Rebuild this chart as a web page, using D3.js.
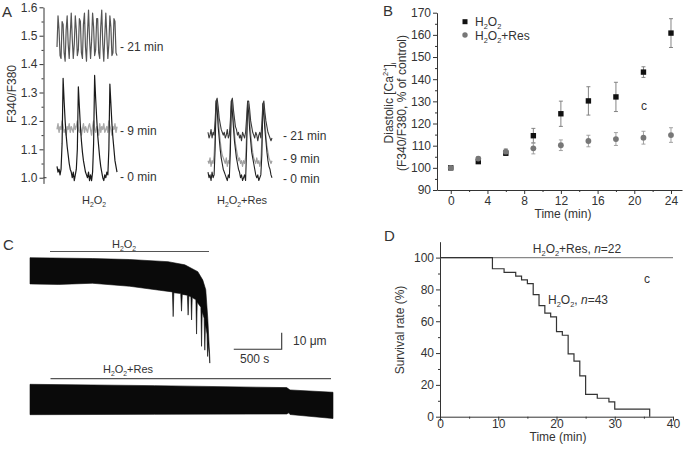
<!DOCTYPE html>
<html><head><meta charset="utf-8">
<script src="https://cdn.jsdelivr.net/npm/d3@7"></script>
<style>body{margin:0;background:#fff} text{font-family:"Liberation Sans",Arial,sans-serif;fill:#333}</style>
</head><body><svg id="c" width="685" height="452"></svg>
<script>
// ---------- Panel A: F340/F380 traces ----------
const aTicks = [1.0, 1.1, 1.2, 1.3, 1.4, 1.5, 1.6];
const aMinor = [1.05, 1.15, 1.25, 1.35, 1.45, 1.55];
const h2o2_0min = [1.04,1.02,1.03,1.01,1.03,1.12,1.35,1.27,1.20,1.15,1.11,1.08,1.05,1.03,1.02,1.00,1.02,0.99,1.01,1.03,1.10,1.32,1.25,1.18,1.13,1.09,1.06,1.04,1.02,1.01,1.00,1.02,0.99,1.01,0.99,1.02,1.12,1.36,1.28,1.21,1.15,1.11,1.07,1.04,1.02,1.00,0.99,1.01,1.00,1.02,1.01,1.10,1.33,1.26,1.19,1.14,1.10,1.06,1.04,1.02];
const h2o2_9min = [1.17,1.19,1.16,1.18,1.17,1.20,1.18,1.16,1.17,1.15,1.18,1.17,1.19,1.16,1.18,1.17,1.16,1.19,1.17,1.18,1.20,1.17,1.16,1.18,1.15,1.17,1.19,1.16,1.18,1.17,1.16,1.18,1.19,1.17,1.15,1.18,1.20,1.17,1.16,1.18,1.17,1.15,1.19,1.16,1.18,1.17,1.19,1.16,1.17,1.18,1.16,1.20,1.18,1.17,1.15,1.18,1.17,1.19,1.16,1.18];
const h2o2_21min = [1.46,1.57,1.52,1.43,1.42,1.55,1.54,1.44,1.41,1.52,1.57,1.47,1.42,1.50,1.58,1.49,1.42,1.47,1.57,1.52,1.43,1.45,1.56,1.55,1.44,1.42,1.54,1.58,1.46,1.41,1.51,1.59,1.49,1.42,1.48,1.58,1.53,1.43,1.45,1.56,1.56,1.44,1.42,1.53,1.59,1.47,1.41,1.50,1.58,1.50,1.42,1.47,1.57,1.53,1.43,1.44,1.56,1.55,1.44,1.43];
const res_0min = [1.02,1.00,1.01,0.99,1.02,1.00,1.01,1.10,1.27,1.24,1.18,1.14,1.10,1.07,1.05,1.03,1.02,1.01,1.00,0.99,1.01,1.00,1.09,1.27,1.23,1.18,1.13,1.10,1.07,1.05,1.03,1.02,1.00,1.01,0.99,1.00,1.01,0.99,1.10,1.26,1.23,1.17,1.13,1.09,1.07,1.05,1.03,1.01,1.00,1.01,0.99,1.00,1.01,1.08,1.26,1.22,1.17,1.13,1.09,1.06,1.04,1.03,1.01,1.00];
const res_9min = [1.06,1.05,1.07,1.04,1.06,1.05,1.08,1.15,1.26,1.27,1.22,1.17,1.13,1.10,1.08,1.07,1.06,1.05,1.07,1.04,1.06,1.05,1.14,1.25,1.27,1.21,1.16,1.12,1.10,1.08,1.06,1.07,1.05,1.06,1.04,1.06,1.05,1.07,1.15,1.26,1.26,1.21,1.16,1.12,1.09,1.07,1.06,1.05,1.07,1.05,1.06,1.04,1.06,1.13,1.25,1.26,1.20,1.15,1.11,1.09,1.07,1.06,1.05,1.06];
const res_21min = [1.16,1.14,1.15,1.17,1.14,1.16,1.15,1.20,1.27,1.28,1.25,1.21,1.19,1.17,1.16,1.15,1.16,1.14,1.15,1.17,1.14,1.15,1.20,1.27,1.28,1.24,1.21,1.18,1.17,1.15,1.16,1.14,1.15,1.13,1.16,1.15,1.14,1.16,1.21,1.27,1.27,1.24,1.20,1.18,1.16,1.15,1.14,1.16,1.15,1.13,1.15,1.16,1.14,1.19,1.26,1.27,1.23,1.20,1.18,1.16,1.15,1.14,1.13,1.14];

// ---------- Panel B: diastolic Ca ----------
const bTime = [0, 3, 6, 9, 12, 15, 18, 21, 24];
const bH2O2 = [100, 102.8, 106.6, 114.5, 124.4, 130.2, 132, 143.2, 160.8];
const bH2O2Err = [0, 0.8, 1.0, 3.3, 5.7, 6.4, 6.6, 2.4, 6.5];
const bRes = [100, 104.2, 107.3, 108.8, 110.2, 112.1, 113, 113.6, 114.8];
const bResErr = [0, 0.8, 1.3, 2.5, 2.4, 2.6, 2.9, 2.9, 3.3];
const bYTicks = [90, 100, 110, 120, 130, 140, 150, 160, 170];
const bYMinor = [95, 105, 115, 125, 135, 145, 155, 165];
const bXTicks = [0, 4, 8, 12, 16, 20, 24];
const bXMinor = [2, 6, 10, 14, 18, 22];

// ---------- Panel C: cell length traces (time s, length change um) ----------
const cTopUpper = [[0,0],[650,-0.5],[1040,-1.1],[1440,-2.4],[1615,-4.3],[1750,-8.4],[1802,-13.5],[1833,-19.3],[1854,-36.5],[1875,-60.5]];
const cTopLower = [[0,-15.8],[300,-16.1],[650,-15.4],[1040,-17.2],[1350,-19.6],[1485,-20.6],[1493,-35.5],[1500,-21.1],[1572,-21.6],[1580,-32.2],[1588,-22.1],[1641,-22.6],[1649,-34.6],[1657,-23],[1678,-23.5],[1685,-37.5],[1692,-24],[1730,-25.4],[1737,-46],[1744,-26.9],[1782,-29.8],[1789,-53.4],[1796,-32.6],[1816,-36.5],[1823,-55.7],[1830,-40.3],[1846,-46],[1852,-59.5],[1858,-51.8],[1868,-57.6],[1875,-63.5]];
const cBotUpper = [[0,0],[1300,-0.8],[2677,-2.0],[2712,-3.4],[3160,-4.8]];
const cBotLower = [[0,-18.3],[1300,-18.1],[2677,-17.9],[2700,-17.2],[2712,-18.2],[3160,-20.6]];
const cScaleTime = 500;   // s
const cScaleLen = 10;     // um

// ---------- Panel D: survival ----------
const dTime = [0, 9, 11, 13, 14, 15, 16, 17, 18, 19, 20, 21, 22, 23, 24, 25, 27, 29, 30, 36];
const dSurv = [100, 93.0, 90.7, 88.4, 86.0, 83.7, 76.7, 69.8, 65.1, 62.8, 53.5, 51.2, 39.5, 34.9, 25.6, 14.0, 11.6, 9.3, 4.7, 0];
const dResTime = [0, 40];
const dResSurv = [100, 100];
const dYTicks = [0, 20, 40, 60, 80, 100];
const dYMinor = [10, 30, 50, 70, 90];
const dXTicks = [0, 10, 20, 30, 40];
const dXMinor = [5, 15, 25, 35];

const H2O2 = ['H', ['2','sub'], 'O', ['2','sub']];

const svg = d3.select('#c');
svg.append('rect').attr('width', 685).attr('height', 452).attr('fill', '#fff');

function rich(g, x, y, parts, o = {}) {
  const size = o.size || 12;
  const t = g.append('text').attr('x', x).attr('y', y).attr('font-size', size)
    .attr('text-anchor', o.anchor || 'start');
  if (o.rotate) t.attr('transform', `rotate(-90,${x},${y})`);
  let shift = 0;
  parts.forEach(p => {
    const [s, m] = typeof p === 'string' ? [p, ''] : p;
    if (m === 'italic') {
      t.append('tspan').text(s).attr('font-style', 'italic').attr('dy', -shift);
      shift = 0; return;
    }
    const target = m === 'sub' ? size * 0.25 : m === 'sup' ? -size * 0.38 : 0;
    const ts = t.append('tspan').text(s).attr('dy', target - shift);
    if (m) ts.attr('font-size', size * 0.62);
    shift = target;
  });
  return t;
}

function styleAxis(g) {
  g.selectAll('path,line').attr('stroke', '#333').attr('stroke-width', 1);
  g.selectAll('text').attr('fill', '#333').attr('font-size', 12)
    .attr('font-family', '"Liberation Sans",Arial,sans-serif');
}
function drawAxis(gen, major, minor, fmt, tx, ty, pad = 2) {
  const g = svg.append('g').attr('transform', `translate(${tx},${ty})`)
    .call(gen.tickValues(major).tickSize(4).tickSizeOuter(0).tickPadding(pad).tickFormat(fmt));
  styleAxis(g);
  const m = svg.append('g').attr('transform', `translate(${tx},${ty})`)
    .call(gen.tickValues(minor).tickSize(2).tickSizeOuter(0).tickFormat(''));
  m.select('.domain').remove();
  styleAxis(m);
  return g;
}
function letter(x, y, s) {
  svg.append('text').attr('x', x).attr('y', y).attr('font-size', 15).attr('fill', '#222').text(s);
}

// ===== Panel A =====
const yA = d3.scaleLinear().domain([0.98, 1.6]).range([183.4, 7.3]);
drawAxis(d3.axisLeft(yA), aTicks, aMinor, d3.format('.1f'), 43.5, 0);
svg.append('line').attr('x1', 43.5).attr('x2', 46.5).attr('y1', yA(1.0)).attr('y2', yA(1.0)).attr('stroke', '#333');
const xA1 = d3.scaleLinear().domain([0, h2o2_0min.length - 1]).range([57, 117]);
const xA2 = d3.scaleLinear().domain([0, res_0min.length - 1]).range([208, 272]);
function trace(arr, xs, color, w) {
  svg.append('path').datum(arr).attr('fill', 'none').attr('stroke', color).attr('stroke-width', w)
    .attr('stroke-linejoin', 'round')
    .attr('d', d3.line().x((d, i) => xs(i)).y(d => yA(d)));
}
trace(h2o2_21min, xA1, '#555', 1.2);
trace(h2o2_9min, xA1, '#aaa', 1.4);
trace(h2o2_0min, xA1, '#1a1a1a', 1.2);
trace(res_9min, xA2, '#a0a0a0', 1.2);
trace(res_0min, xA2, '#222', 1.1);
trace(res_21min, xA2, '#3a3a3a', 1.1);
const aLbl = [['- 21 min', 120, 51], ['- 9 min', 120, 135], ['- 0 min', 120, 181],
              ['- 21 min', 283, 140], ['- 9 min', 283, 163], ['- 0 min', 283, 183]];
aLbl.forEach(([s, x, y]) => svg.append('text').attr('x', x).attr('y', y).attr('font-size', 12).text(s));
rich(svg, 94, 204, H2O2, { anchor: 'middle', size: 11 });
rich(svg, 242, 204, [...H2O2, '+Res'], { anchor: 'middle', size: 11 });
svg.append('text').attr('transform', 'translate(16,94) rotate(-90)').attr('text-anchor', 'middle')
  .attr('font-size', 12).text('F340/F380');
letter(2, 17, 'A');

// ===== Panel B =====
const xB = d3.scaleLinear().domain([-1.5, 25.2]).range([437, 682]);
const yB = d3.scaleLinear().domain([90, 170]).range([190, 12.7]);
drawAxis(d3.axisLeft(yB), bYTicks, bYMinor, d3.format('d'), 437, 0);
drawAxis(d3.axisBottom(xB), bXTicks, bXMinor, d3.format('d'), 0, 190);
function errBars(vals, errs, color) {
  bTime.forEach((t, i) => {
    if (!errs[i]) return;
    const x = xB(t), y1 = yB(vals[i] + errs[i]), y2 = yB(vals[i] - errs[i]);
    const g = svg.append('g').attr('stroke', color).attr('stroke-width', 0.9);
    g.append('line').attr('x1', x).attr('x2', x).attr('y1', y1).attr('y2', y2);
    g.append('line').attr('x1', x - 2).attr('x2', x + 2).attr('y1', y1).attr('y2', y1);
    g.append('line').attr('x1', x - 2).attr('x2', x + 2).attr('y1', y2).attr('y2', y2);
  });
}
errBars(bH2O2, bH2O2Err, '#777');
errBars(bRes, bResErr, '#999');
svg.append('g').selectAll('rect').data(bTime).join('rect')
  .attr('x', (d) => xB(d) - 2.7).attr('y', (d, i) => yB(bH2O2[i]) - 2.7)
  .attr('width', 5.4).attr('height', 5.4).attr('fill', '#111');
svg.append('g').selectAll('circle').data(bTime).join('circle')
  .attr('cx', d => xB(d)).attr('cy', (d, i) => yB(bRes[i])).attr('r', 2.9).attr('fill', '#777');
svg.append('rect').attr('x', 462.5).attr('y', 19.2).attr('width', 5).attr('height', 5).attr('fill', '#111');
svg.append('circle').attr('cx', 465).attr('cy', 35).attr('r', 2.7).attr('fill', '#777');
rich(svg, 475, 26, H2O2, { size: 12 });
rich(svg, 475, 39.5, [...H2O2, '+Res'], { size: 12 });
svg.append('text').attr('x', 644).attr('y', 110).attr('font-size', 12).attr('text-anchor', 'middle').text('c');
const bT = svg.append('g');
rich(bT, 393, 103, ['Diastolic [Ca', ['2+', 'sup'], ']', ['i', 'sub']], { anchor: 'middle', rotate: true, size: 12 });
rich(bT, 406, 103, ['(F340/F380, % of control)'], { anchor: 'middle', rotate: true, size: 12 });
svg.append('text').attr('x', 563).attr('y', 218).attr('text-anchor', 'middle').attr('font-size', 12).text('Time (min)');
letter(383, 16, 'B');

// ===== Panel C =====
const xC = d3.scaleLinear().domain([0, 3160]).range([30, 333]);
const pxPerUm = 1.66;
const yCTop = d3.scaleLinear().domain([-70, 0]).range([257.7 + 70 * pxPerUm, 257.7]);
const yCBot = d3.scaleLinear().domain([-25, 0]).range([384.3 + 25 * pxPerUm, 384.3]);
function band(up, lo, ys) {
  const pts = up.map(d => [xC(d[0]), ys(d[1])]).concat(lo.slice().reverse().map(d => [xC(d[0]), ys(d[1])]));
  svg.append('path').attr('d', d3.line()(pts) + 'Z').attr('fill', '#0a0a0a').attr('stroke', '#0a0a0a').attr('stroke-width', 0.6);
}
band(cTopUpper, cTopLower, yCTop);
band(cBotUpper, cBotLower, yCBot);
svg.append('line').attr('x1', 50).attr('x2', 209).attr('y1', 251.5).attr('y2', 251.5).attr('stroke', '#555').attr('stroke-width', 1.2);
svg.append('line').attr('x1', 50.5).attr('x2', 331).attr('y1', 378.7).attr('y2', 378.7).attr('stroke', '#555').attr('stroke-width', 1.2);
rich(svg, 124, 248, H2O2, { anchor: 'middle', size: 11 });
rich(svg, 128, 373, [...H2O2, '+Res'], { anchor: 'middle', size: 11 });
const sbX1 = 281.7, sbY = 349.3;
const sbW = xC(cScaleTime) - xC(0), sbH = cScaleLen * pxPerUm;
svg.append('path').attr('d', `M${sbX1 - sbW},${sbY}H${sbX1}V${sbY - sbH}`).attr('fill', 'none').attr('stroke', '#333').attr('stroke-width', 1.1);
svg.append('text').attr('x', 293).attr('y', 345).attr('font-size', 12).text('10 μm');
svg.append('text').attr('x', 240).attr('y', 363).attr('font-size', 12).text('500 s');
letter(3, 250, 'C');

// ===== Panel D =====
const xD = d3.scaleLinear().domain([0, 40]).range([440, 673]);
const yD = d3.scaleLinear().domain([0, 110]).range([416.7, 241.7]);
drawAxis(d3.axisLeft(yD), dYTicks, dYMinor, d3.format('d'), 440, 0);
drawAxis(d3.axisBottom(xD), dXTicks, dXMinor, d3.format('d'), 0, 416.7, -1);
svg.append('path').datum(dResTime.map((t, i) => [t, dResSurv[i]])).attr('fill', 'none')
  .attr('stroke', '#888').attr('stroke-width', 1.1)
  .attr('d', d3.line().x(d => xD(d[0])).y(d => yD(d[1])));
svg.append('path').datum(dTime.map((t, i) => [t, dSurv[i]])).attr('fill', 'none')
  .attr('stroke', '#333').attr('stroke-width', 1.2)
  .attr('d', d3.line().x(d => xD(d[0])).y(d => yD(d[1])).curve(d3.curveStepAfter));
rich(svg, 577, 253, [...H2O2, '+Res, ', ['n', 'italic'], '=22'], { anchor: 'middle', size: 12 });
rich(svg, 548, 304, [...H2O2, ', ', ['n', 'italic'], '=43'], { size: 12 });
svg.append('text').attr('x', 647).attr('y', 283).attr('font-size', 12).attr('text-anchor', 'middle').text('c');
svg.append('text').attr('transform', 'translate(404,330) rotate(-90)').attr('text-anchor', 'middle')
  .attr('font-size', 12).text('Survival rate (%)');
svg.append('text').attr('x', 558).attr('y', 441).attr('text-anchor', 'middle').attr('font-size', 12).text('Time (min)');
letter(384, 241, 'D');
</script></body></html>
